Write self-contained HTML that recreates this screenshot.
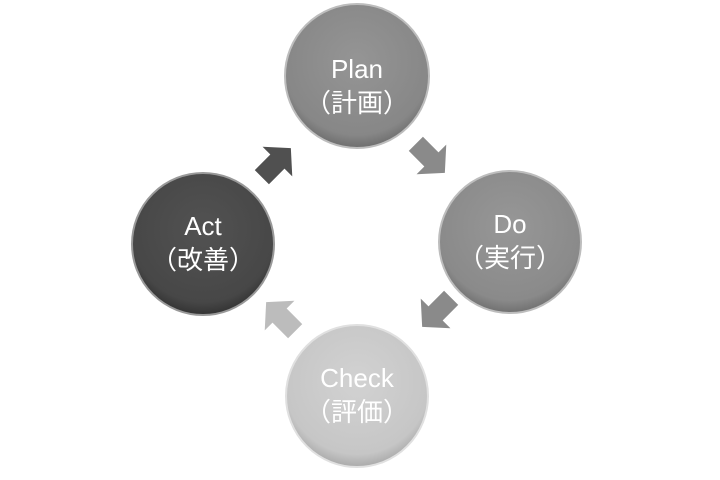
<!DOCTYPE html>
<html><head><meta charset="utf-8"><style>
html,body{margin:0;padding:0;background:#fff;width:720px;height:480px;overflow:hidden}
</style></head><body>
<svg width="720" height="480" viewBox="0 0 720 480" xmlns="http://www.w3.org/2000/svg">
<defs>
<radialGradient id="gp" cx="50%" cy="40%" r="60%"><stop offset="0" stop-color="#959595"/><stop offset="0.85" stop-color="#878787"/><stop offset="1" stop-color="#6e6e6e"/></radialGradient>
<radialGradient id="ga" cx="50%" cy="40%" r="60%"><stop offset="0" stop-color="#525252"/><stop offset="0.85" stop-color="#474747"/><stop offset="1" stop-color="#333"/></radialGradient>
<radialGradient id="gd" cx="50%" cy="40%" r="60%"><stop offset="0" stop-color="#979797"/><stop offset="0.85" stop-color="#8a8a8a"/><stop offset="1" stop-color="#707070"/></radialGradient>
<radialGradient id="gc" cx="50%" cy="40%" r="60%"><stop offset="0" stop-color="#d2d2d2"/><stop offset="0.85" stop-color="#c6c6c6"/><stop offset="1" stop-color="#aaa"/></radialGradient>
<polygon id="arr" points="-20,-10 2,-10 2,-21 21,0 2,21 2,10 -20,10"/>
</defs>
<g font-family="Liberation Sans, Noto Sans CJK JP, sans-serif" fill="#fff" text-anchor="middle" font-size="26">
<circle cx="357" cy="76" r="72" fill="url(#gp)" stroke="#bdbdbd" stroke-width="2"/>
<text x="357" y="78">Plan</text><text x="357" y="112">（計画）</text>
<circle cx="510" cy="242" r="71" fill="url(#gd)" stroke="#bdbdbd" stroke-width="2"/>
<text x="510" y="233">Do</text><text x="510" y="267">（実行）</text>
<circle cx="357" cy="396" r="71" fill="url(#gc)" stroke="#e0e0e0" stroke-width="2"/>
<text x="357" y="387">Check</text><text x="357" y="421">（評価）</text>
<circle cx="203" cy="244" r="71" fill="url(#ga)" stroke="#999" stroke-width="2"/>
<text x="203" y="235">Act</text><text x="203" y="269">（改善）</text>
</g>
<use href="#arr" fill="#505050" transform="translate(276,163) rotate(-45)"/>
<use href="#arr" fill="#8a8a8a" transform="translate(430,158) rotate(45)"/>
<use href="#arr" fill="#8a8a8a" transform="translate(437,312) rotate(135)"/>
<use href="#arr" fill="#bcbcbc" transform="translate(281,317) rotate(-135)"/>
</svg>
</body></html>
